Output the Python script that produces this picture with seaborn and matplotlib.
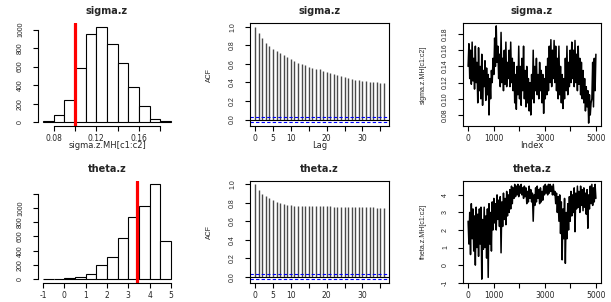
import numpy as np
import pandas as pd
import matplotlib
matplotlib.use("Agg")
import matplotlib.pyplot as plt
import seaborn as sns

# --- data ---
sigma_edges = [0.07, 0.08, 0.09, 0.10, 0.11, 0.12, 0.13, 0.14, 0.15, 0.16, 0.17, 0.18, 0.19]
sigma_counts = [15, 80, 245, 590, 950, 1030, 840, 640, 380, 180, 35, 10]
sigma_mark = 0.10

theta_edges = [-1.0, -0.5, 0.0, 0.5, 1.0, 1.5, 2.0, 2.5, 3.0, 3.5, 4.0, 4.5, 5.0]
theta_counts = [2, 2, 15, 25, 70, 193, 315, 584, 870, 1026, 1332, 532]
theta_mark = 3.43

lags = list(range(37))
sigma_acf = [1.00, 0.93, 0.88, 0.83, 0.79, 0.76, 0.74, 0.72, 0.70, 0.67, 0.65, 0.63, 0.615,
             0.60, 0.585, 0.57, 0.56, 0.55, 0.54, 0.525, 0.51, 0.50, 0.49, 0.48, 0.47, 0.46,
             0.45, 0.44, 0.43, 0.425, 0.42, 0.415, 0.41, 0.405, 0.40, 0.395, 0.39]
theta_acf = [1.00, 0.94, 0.90, 0.87, 0.85, 0.83, 0.81, 0.80, 0.79, 0.78, 0.775, 0.77, 0.77,
             0.77, 0.77, 0.77, 0.77, 0.765, 0.765, 0.76, 0.76, 0.76, 0.755, 0.755, 0.75, 0.75,
             0.75, 0.75, 0.75, 0.75, 0.75, 0.75, 0.75, 0.75, 0.745, 0.745, 0.74]
acf_ci = 0.028

sigma_trace = [
    0.140, 0.168, 0.125, 0.160, 0.118, 0.170, 0.122, 0.150, 0.112, 0.165,
    0.120, 0.145, 0.095, 0.163, 0.110, 0.140, 0.100, 0.155, 0.092, 0.135,
    0.115, 0.147, 0.098, 0.138, 0.105, 0.130, 0.080, 0.125, 0.100, 0.135,
    0.120, 0.150, 0.130, 0.175, 0.140, 0.190, 0.145, 0.165, 0.125, 0.155,
    0.115, 0.182, 0.120, 0.150, 0.110, 0.160, 0.118, 0.170, 0.115, 0.145,
    0.125, 0.160, 0.115, 0.170, 0.120, 0.150, 0.110, 0.145, 0.095, 0.130,
    0.087, 0.140, 0.105, 0.165, 0.100, 0.140, 0.092, 0.150, 0.110, 0.165,
    0.100, 0.135, 0.090, 0.140, 0.095, 0.125, 0.085, 0.120, 0.080, 0.130,
    0.100, 0.160, 0.095, 0.140, 0.110, 0.150, 0.105, 0.130, 0.100, 0.145,
    0.110, 0.135, 0.095, 0.130, 0.082, 0.125, 0.100, 0.140, 0.105, 0.150,
    0.110, 0.165, 0.120, 0.173, 0.115, 0.160, 0.125, 0.172, 0.120, 0.165,
    0.110, 0.150, 0.100, 0.165, 0.105, 0.140, 0.095, 0.130, 0.088, 0.125,
    0.100, 0.150, 0.110, 0.165, 0.105, 0.145, 0.115, 0.160, 0.120, 0.170,
    0.125, 0.160, 0.115, 0.172, 0.120, 0.155, 0.110, 0.165, 0.118, 0.150,
    0.105, 0.145, 0.100, 0.135, 0.095, 0.125, 0.085, 0.115, 0.090, 0.110,
    0.070, 0.105, 0.080, 0.095, 0.100, 0.145, 0.090, 0.150, 0.110, 0.155,
]
theta_trace = [
    2.5, 1.2, 3.0, 0.6, 3.5, 1.5, 3.2, 0.8, 2.8, 0.0,
    3.3, 1.0, 2.9, 0.5, 3.2, 1.2, 3.3, -0.8, 2.6, 0.9,
    3.3, 1.0, 2.8, 0.4, 3.2, -0.7, 3.5, 1.2, 3.0, 0.8,
    3.6, 2.0, 3.8, 2.4, 3.5, 2.0, 4.0, 2.6, 3.7, 2.2,
    3.9, 0.7, 3.6, 2.2, 4.1, 2.6, 3.8, 2.3, 4.2, 2.8,
    4.0, 3.0, 4.3, 3.2, 4.5, 3.5, 4.4, 3.8, 4.6, 3.9,
    4.5, 4.0, 4.6, 3.9, 4.5, 4.1, 4.6, 4.0, 4.4, 3.8,
    4.5, 3.9, 4.4, 3.5, 4.2, 3.6, 4.5, 3.8, 4.3, 3.6,
    4.1, 2.5, 4.0, 3.4, 4.4, 3.6, 4.5, 3.8, 4.3, 3.5,
    4.4, 3.6, 4.2, 3.7, 4.5, 4.0, 4.6, 4.1, 4.5, 4.0,
    4.6, 4.1, 4.6, 4.2, 4.5, 4.0, 4.6, 4.0, 4.2, 3.5,
    4.1, 3.0, 3.9, 2.5, 4.0, 1.8, 3.6, 0.3, 3.2, 1.5,
    3.8, 0.1, 3.0, 1.5, 3.5, 2.0, 3.9, 2.5, 4.2, 2.8,
    4.0, 3.0, 4.4, 1.9, 4.1, 3.2, 4.5, 3.3, 4.2, 3.0,
    4.5, 3.4, 4.3, 3.1, 4.4, 3.3, 4.1, 2.9, 4.3, 2.1,
    4.0, 3.2, 4.5, 3.5, 4.6, 3.4, 4.4, 3.6, 4.6, 3.8,
]
n_iter = 5000

# --- style ---
sns.set_style("ticks")
plt.rcParams["font.family"] = ["DejaVu Sans"]
NARROW = ["Liberation Sans Narrow", "Liberation Sans", "DejaVu Sans"]
LW = 0.8

fig = plt.figure(figsize=(6.11, 3.02), dpi=100)
W, H = 611, 302


def make_ax(x0, y0, x1, y1):
    return fig.add_axes([x0 / W, 1 - y1 / H, (x1 - x0) / W, (y1 - y0) / H])


def style_ax(ax, title, ylabel, xlabel, height_px, box=True):
    for s in ax.spines.values():
        s.set_linewidth(LW)
        s.set_color("black")
    if not box:
        ax.spines["top"].set_visible(False)
        ax.spines["right"].set_visible(False)
    ax.tick_params(direction="out", length=3.6, width=LW, color="black")
    ax.tick_params(axis="x", pad=2, labelsize=5.5)
    ax.tick_params(axis="y", pad=6.5)
    ax.set_title(title, fontsize=7, fontweight="bold", y=1 + 11.5 / height_px, va="center", pad=0)
    ax.set_ylabel(ylabel, fontsize=5, family=NARROW, va="center")
    ax.yaxis.set_label_coords(-0.29, 0.5)
    # bottom-row x labels fall below the picture, as in the reference
    ax.set_xlabel(xlabel, fontsize=6, va="center")
    ax.xaxis.set_label_coords(0.5, -20 / height_px)
    ax.grid(False)


def set_yt(ax, ticks, labels):
    ax.set_yticks(ticks, labels, rotation=90, va="center", fontsize=5, family=NARROW)


def hist_panel(ax, edges, counts, mark, xlim, ylim):
    mids = [(a + b) / 2 for a, b in zip(edges[:-1], edges[1:])]
    df = pd.DataFrame({"x": mids, "n": counts})
    sns.histplot(data=df, x="x", weights="n", bins=list(edges), ax=ax, color="white",
                 edgecolor="black", linewidth=LW, alpha=1)
    ax.axvline(mark, color="red", linewidth=2.3)
    ax.set_xlim(xlim)
    ax.set_ylim(ylim)


def acf_panel(ax, acf):
    ax.vlines(lags, 0, acf, color="#4a4a4a", linewidth=1.0)
    ax.axhline(0, color="black", linewidth=LW)
    for c in (acf_ci, -acf_ci):
        ax.axhline(c, color="blue", linestyle=(0, (3, 2)), linewidth=LW)
    ax.set_xlim(-1.44, 37.44)
    ax.set_ylim(-0.069, 1.041)
    ax.set_xticks(range(0, 36, 5), ["0", "5", "10", "", "20", "", "30", ""])
    set_yt(ax, [0, 0.2, 0.4, 0.6, 0.8, 1.0], ["0.0", "0.2", "0.4", "0.6", "0.8", "1.0"])


def trace_panel(ax, vals, ylim):
    it = np.linspace(1, n_iter, len(vals))
    df = pd.DataFrame({"Index": it, "value": vals})
    sns.lineplot(data=df, x="Index", y="value", color="black", linewidth=1.1,
                 estimator=None, sort=False, ax=ax)
    ax.set_xlim(-199, 5200)
    ax.set_ylim(ylim)
    ax.set_xticks(range(0, 5001, 1000), ["0", "1000", "", "3000", "", "5000"])


TOP = (23, 126)
BOT = (180.5, 283)
COLS = [(38, 176), (250, 389), (463, 601)]
HT = TOP[1] - TOP[0]
HB = BOT[1] - BOT[0]

# top row
ax = make_ax(COLS[0][0], TOP[0], COLS[0][1], TOP[1])
hist_panel(ax, sigma_edges, sigma_counts, sigma_mark, (0.0652, 0.1948), (-41, 1071))
ax.set_xticks([0.08, 0.10, 0.12, 0.14, 0.16, 0.18], ["0.08", "", "0.12", "", "0.16", ""])
set_yt(ax, range(0, 1001, 200), [str(v) for v in range(0, 1001, 200)])
style_ax(ax, "sigma.z", "", "sigma.z.MH[c1:c2]", HT, box=False)
ax.spines["left"].set_bounds(0, 1000)
ax.spines["bottom"].set_bounds(0.08, 0.18)

ax = make_ax(COLS[1][0], TOP[0], COLS[1][1], TOP[1])
acf_panel(ax, sigma_acf)
style_ax(ax, "sigma.z", "ACF", "Lag", HT)

ax = make_ax(COLS[2][0], TOP[0], COLS[2][1], TOP[1])
trace_panel(ax, sigma_trace, (0.0664, 0.1936))
set_yt(ax, [0.08, 0.10, 0.12, 0.14, 0.16, 0.18], ["0.08", "0.10", "0.12", "0.14", "0.16", "0.18"])
style_ax(ax, "sigma.z", "sigma.z.MH[c1:c2]", "Index", HT)

# bottom row (its x labels are cut off in the reference)
ax = make_ax(COLS[0][0], BOT[0], COLS[0][1], BOT[1])
hist_panel(ax, theta_edges, theta_counts, theta_mark, (-1.24, 5.24), (-53, 1385))
ax.set_xticks(range(-1, 6), ["-1", "0", "1", "2", "3", "4", "5"])
set_yt(ax, range(0, 1201, 200), [str(v) for v in range(0, 1001, 200)] + [""])
style_ax(ax, "theta.z", "", "", HB, box=False)
ax.spines["left"].set_bounds(0, 1200)
ax.spines["bottom"].set_bounds(-1, 5)

ax = make_ax(COLS[1][0], BOT[0], COLS[1][1], BOT[1])
acf_panel(ax, theta_acf)
style_ax(ax, "theta.z", "ACF", "", HB)

ax = make_ax(COLS[2][0], BOT[0], COLS[2][1], BOT[1])
trace_panel(ax, theta_trace, (-1.02, 4.82))
set_yt(ax, range(-1, 5), ["-1", "0", "1", "2", "3", "4"])
style_ax(ax, "theta.z", "theta.z.MH[c1:c2]", "", HB)

fig.savefig("out.png", dpi=100, facecolor="white")
